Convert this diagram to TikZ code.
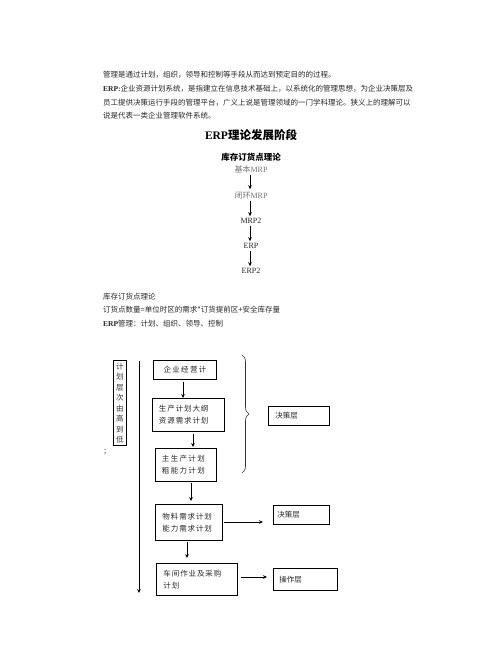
\documentclass[tikz,border=0pt]{standalone}
\usepackage{fontspec}
\setmainfont{Liberation Serif}
\newfontfamily\cjk{Noto Sans CJK SC}
\newfontfamily\cjkwa[LetterSpace=18]{Noto Sans CJK SC}
\newfontfamily\cjkwb[LetterSpace=12]{Noto Sans CJK SC}
\newcommand\lat[1]{{\rmfamily #1}}
\usetikzlibrary{arrows.meta,decorations.pathreplacing}
\begin{document}
\begin{tikzpicture}[x=1pt,y=-1pt,
  txt/.style={anchor=west,inner sep=0,text=black!85,font=\fontsize{7.5}{9}\selectfont\cjk},
  ctr/.style={inner sep=1pt,text=black!85,font=\fontsize{8}{9}\selectfont\cjk},
  arr/.style={-{Stealth[length=4pt,width=3.6pt]},line width=0.8pt},
  bx/.style={draw,line width=0.9pt,anchor=north west,inner ysep=0,align=left,
    text=black!85,font=\fontsize{7.5}{12}\selectfont\cjk}]
\useasboundingbox (0,0) rectangle (502,649);
% paragraph text
\node[txt] (l1) at (103,75) {管理是通过计划，组织，领导和控制等手段从而达到预定目的的过程。};
\node[txt] (l2) at (103,89) {\lat{\bfseries ERP:}企业资源计划系统，是指建立在信息技术基础上，以系统化的管理思想，为企业决策层及};
\node[txt] (l3) at (103,102.5) {员工提供决策运行手段的管理平台，广义上说是管理领域的一门学科理论。狭义上的理解可以};
\node[txt] (l4) at (103,116) {说是代表一类企业管理软件系统。};
% title and stages
\node[inner sep=0,font=\fontsize{11.5}{13}\selectfont\cjk\bfseries] (title) at (251,135) {\lat{\bfseries ERP}理论发展阶段};
\node[inner sep=0,font=\fontsize{8.5}{10}\selectfont\cjk\bfseries] (s0) at (251,157) {库存订货点理论};
\node[ctr,text=black!55] (s1) at (251,169) {基本\lat{MRP}};
\node[ctr,text=black!55] (s2) at (251,195) {闭环\lat{MRP}};
\node[ctr] (s3) at (251,221) {\lat{MRP2}};
\node[ctr] (s4) at (251,246) {\lat{ERP}};
\node[ctr] (s5) at (251,271) {\lat{ERP2}};
\draw[arr,shorten <=1pt,shorten >=1pt] (s1.south -| 250,0) -- (s2.north -| 250,0);
\draw[arr,shorten <=1pt,shorten >=1pt] (s2.south -| 250,0) -- (s3.north -| 250,0);
\draw[arr,shorten <=1pt,shorten >=1pt] (s3.south -| 250,0) -- (s4.north -| 250,0);
\draw[arr,shorten <=1pt,shorten >=1pt] (s4.south -| 250,0) -- (s5.north -| 250,0);
% lower text
\node[txt] (l5) at (103,297) {库存订货点理论};
\node[txt] (l6) at (103,310) {订货点数量=单位时区的需求*订货提前区+安全库存量};
\node[txt] (l7) at (103,324) {\lat{\bfseries ERP}管理：计划、组织、领导、控制};
\node[txt] (semi) at (104,452) {;};
% diagram
\node[draw,line width=0.9pt,anchor=north west,minimum width=13,minimum height=85,inner sep=0,
  text=black!80,font=\fontsize{7.5}{10.5}\selectfont\cjk,align=center] (v) at (113,360)
  {计\\划\\层\\次\\由\\高\\到\\低};
\coordinate (ltop) at (139,361);
\coordinate (lbot) at (139,593);
\draw[arr] (ltop) -- (lbot);
\node[bx,minimum width=63,minimum height=19,inner xsep=0,align=center] (b1) at (153,360) {\cjkwa 企业经营计};
\node[bx,minimum height=33,inner xsep=6.5,text width=59] (b2) at (152,398) {\cjkwb 生产计划大纲\\\cjkwb 资源需求计划};
\node[bx,minimum height=33,inner xsep=6.5,text width=48] (b3) at (155,448) {\cjkwa 主生产计划\\\cjkwa 粗能力计划};
\node[bx,minimum width=61,minimum height=19,inner xsep=7,text width=47] (d1) at (268,406) {决策层};
\node[bx,minimum height=36,inner xsep=7,text width=53] (b4) at (155,504) {\cjkwb 物料需求计划\\\cjkwb 能力需求计划};
\node[bx,minimum width=56,minimum height=19,inner xsep=4,text width=48] (d2) at (273,505) {决策层};
\node[bx,minimum height=32,inner xsep=7,text width=67] (b5) at (156,563) {\cjkwb 车间作业及采购\\\cjkwb 计划};
\node[bx,minimum width=64,minimum height=22,inner xsep=6,text width=52] (d3) at (273,568) {操作层};
\draw[arr,shorten <=2pt] (b1.south -| 183,0) -- (b2.north -| 183,0);
\draw[arr,shorten <=2pt,shorten >=1pt] (b2.south -| 193,0) -- (b3.north -| 193,0);
\draw[arr,shorten <=1pt,shorten >=3pt] (b3.south -| 191,0) -- (b4.north -| 191,0);
\draw[arr,shorten <=1pt,shorten >=5pt] (b4.south -| 187,0) -- (b5.north -| 187,0);
\draw[arr,shorten <=1pt,shorten >=10pt] (b4.east |- 0,522) -- (d2.west |- 0,522);
\draw[arr,shorten <=3pt,shorten >=6pt] (b5.east |- 0,577) -- (d3.west |- 0,577);
\draw[line width=0.6pt,black!80,decorate,decoration={brace,amplitude=7pt}] (242,355) -- (242,473);
\end{tikzpicture}
\end{document}
